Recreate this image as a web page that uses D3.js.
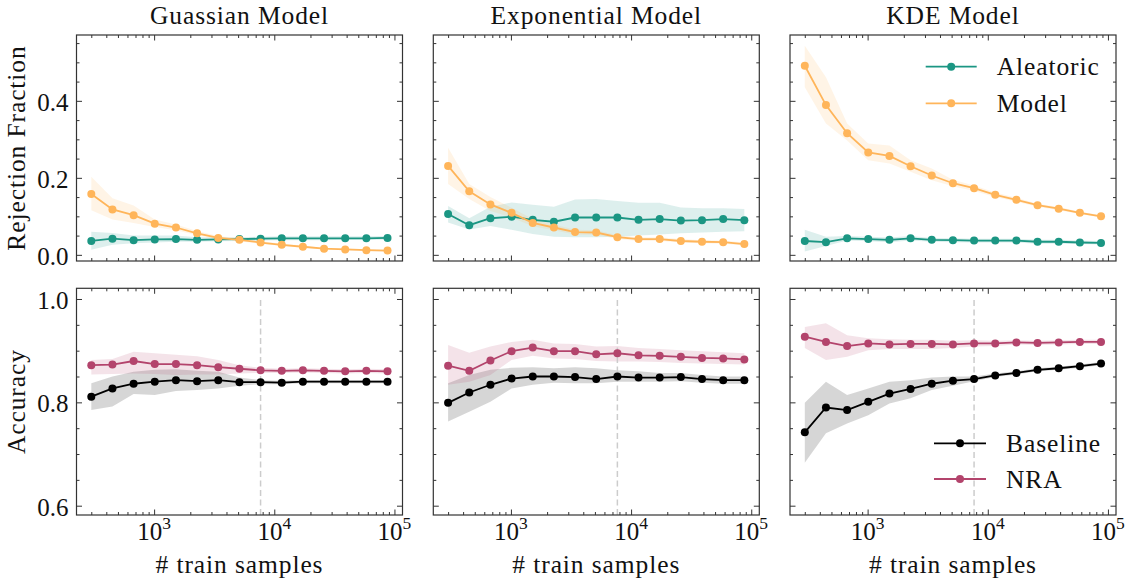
<!DOCTYPE html>
<html>
<head>
<meta charset="utf-8">
<script src="https://cdn.jsdelivr.net/npm/d3@7"></script>
<style>
  html, body { margin: 0; padding: 0; background: #fff; }
  svg { display: block; }
</style>
</head>
<body>
<svg id="chart" width="1132" height="581" font-family="'Liberation Serif', 'DejaVu Serif', serif"></svg>
<script>
// Training-set sizes (x values shared by every panel)
const trainSizes = [300, 450, 675, 1012, 1519, 2278, 3417, 5126, 7689, 11533, 17300, 25949, 38924, 58386, 87579];
const referenceSize = 7689;

const modelNames = ["Guassian Model", "Exponential Model", "KDE Model"];

// Rejection fraction: aleatoric component (mean, lower, upper)
const gaussAleatoric   = [0.036, 0.042, 0.038, 0.040, 0.041, 0.039, 0.040, 0.041, 0.042, 0.043, 0.043, 0.043, 0.043, 0.043, 0.044];
const gaussAleatoricLo = [0.013, 0.026, 0.030, 0.032, 0.034, 0.034, 0.035, 0.036, 0.037, 0.038, 0.038, 0.038, 0.039, 0.039, 0.039];
const gaussAleatoricHi = [0.060, 0.057, 0.050, 0.050, 0.050, 0.046, 0.046, 0.046, 0.047, 0.048, 0.048, 0.048, 0.048, 0.048, 0.049];
const expAleatoric     = [0.106, 0.077, 0.095, 0.099, 0.091, 0.086, 0.097, 0.097, 0.097, 0.091, 0.093, 0.089, 0.090, 0.093, 0.090];
const expAleatoricLo   = [0.084, 0.066, 0.075, 0.065, 0.054, 0.047, 0.046, 0.046, 0.047, 0.050, 0.053, 0.056, 0.058, 0.060, 0.061];
const expAleatoricHi   = [0.127, 0.095, 0.125, 0.136, 0.130, 0.125, 0.144, 0.145, 0.140, 0.135, 0.135, 0.123, 0.121, 0.121, 0.119];
const kdeAleatoric     = [0.036, 0.033, 0.043, 0.041, 0.039, 0.043, 0.039, 0.038, 0.037, 0.037, 0.037, 0.034, 0.034, 0.032, 0.031];
const kdeAleatoricLo   = [0.009, 0.023, 0.037, 0.035, 0.033, 0.037, 0.034, 0.033, 0.032, 0.032, 0.032, 0.029, 0.029, 0.028, 0.027];
const kdeAleatoricHi   = [0.065, 0.047, 0.049, 0.047, 0.045, 0.049, 0.044, 0.043, 0.042, 0.042, 0.042, 0.039, 0.039, 0.037, 0.036];

// Rejection fraction: model component (mean, lower, upper)
const gaussModel   = [0.158, 0.118, 0.103, 0.081, 0.071, 0.056, 0.044, 0.039, 0.032, 0.026, 0.021, 0.016, 0.014, 0.012, 0.011];
const gaussModelLo = [0.116, 0.092, 0.083, 0.072, 0.064, 0.051, 0.040, 0.035, 0.029, 0.023, 0.019, 0.014, 0.012, 0.010, 0.009];
const gaussModelHi = [0.203, 0.147, 0.128, 0.092, 0.079, 0.062, 0.049, 0.043, 0.036, 0.029, 0.024, 0.018, 0.016, 0.014, 0.013];
const expModel     = [0.231, 0.165, 0.131, 0.109, 0.083, 0.071, 0.059, 0.058, 0.046, 0.041, 0.041, 0.036, 0.034, 0.033, 0.028];
const expModelLo   = [0.184, 0.145, 0.114, 0.097, 0.074, 0.064, 0.053, 0.052, 0.041, 0.036, 0.036, 0.032, 0.030, 0.029, 0.024];
const expModelHi   = [0.278, 0.184, 0.150, 0.122, 0.093, 0.079, 0.065, 0.064, 0.051, 0.046, 0.046, 0.041, 0.038, 0.037, 0.032];
const kdeModel     = [0.491, 0.389, 0.316, 0.266, 0.257, 0.230, 0.206, 0.186, 0.173, 0.156, 0.143, 0.129, 0.120, 0.109, 0.100];
const kdeModelLo   = [0.435, 0.341, 0.297, 0.246, 0.237, 0.216, 0.194, 0.178, 0.166, 0.150, 0.138, 0.125, 0.116, 0.106, 0.097];
const kdeModelHi   = [0.543, 0.461, 0.341, 0.289, 0.284, 0.246, 0.224, 0.195, 0.180, 0.162, 0.148, 0.133, 0.124, 0.112, 0.103];

// Accuracy: baseline classifier (mean, lower, upper)
const gaussBaseline   = [0.811, 0.827, 0.836, 0.840, 0.843, 0.841, 0.843, 0.839, 0.839, 0.838, 0.840, 0.840, 0.840, 0.840, 0.840];
const gaussBaselineLo = [0.785, 0.792, 0.816, 0.814, 0.822, 0.824, 0.827, 0.832, 0.835, 0.835, 0.837, 0.837, 0.837, 0.837, 0.837];
const gaussBaselineHi = [0.837, 0.850, 0.859, 0.863, 0.864, 0.861, 0.859, 0.848, 0.843, 0.842, 0.843, 0.843, 0.843, 0.843, 0.843];
const expBaseline     = [0.799, 0.819, 0.834, 0.846, 0.850, 0.850, 0.849, 0.845, 0.850, 0.848, 0.848, 0.849, 0.845, 0.843, 0.843];
const expBaselineLo   = [0.763, 0.782, 0.801, 0.827, 0.834, 0.838, 0.837, 0.837, 0.840, 0.840, 0.840, 0.841, 0.838, 0.836, 0.836];
const expBaselineHi   = [0.837, 0.853, 0.863, 0.867, 0.868, 0.866, 0.868, 0.866, 0.862, 0.860, 0.857, 0.857, 0.853, 0.850, 0.850];
const kdeBaseline     = [0.742, 0.790, 0.785, 0.801, 0.817, 0.826, 0.836, 0.842, 0.845, 0.852, 0.857, 0.863, 0.866, 0.870, 0.875];
const kdeBaselineLo   = [0.683, 0.740, 0.759, 0.775, 0.798, 0.808, 0.824, 0.832, 0.841, 0.849, 0.854, 0.860, 0.863, 0.867, 0.872];
const kdeBaselineHi   = [0.799, 0.840, 0.814, 0.827, 0.840, 0.843, 0.848, 0.850, 0.850, 0.856, 0.860, 0.866, 0.869, 0.873, 0.878];

// Accuracy: NRA (mean, lower, upper)
const gaussNRA   = [0.872, 0.873, 0.880, 0.874, 0.874, 0.872, 0.868, 0.865, 0.862, 0.861, 0.862, 0.861, 0.860, 0.861, 0.860];
const gaussNRALo = [0.854, 0.855, 0.856, 0.855, 0.853, 0.854, 0.854, 0.856, 0.857, 0.857, 0.858, 0.857, 0.856, 0.857, 0.856];
const gaussNRAHi = [0.882, 0.884, 0.898, 0.895, 0.892, 0.889, 0.882, 0.872, 0.867, 0.865, 0.866, 0.865, 0.864, 0.865, 0.864];
const expNRA     = [0.871, 0.861, 0.881, 0.899, 0.906, 0.899, 0.899, 0.893, 0.895, 0.891, 0.890, 0.888, 0.886, 0.885, 0.883];
const expNRALo   = [0.834, 0.840, 0.853, 0.882, 0.890, 0.885, 0.884, 0.880, 0.879, 0.879, 0.878, 0.876, 0.875, 0.874, 0.873];
const expNRAHi   = [0.911, 0.896, 0.908, 0.917, 0.921, 0.914, 0.913, 0.908, 0.909, 0.905, 0.903, 0.901, 0.899, 0.897, 0.895];
const kdeNRA     = [0.927, 0.917, 0.909, 0.914, 0.912, 0.913, 0.913, 0.912, 0.914, 0.914, 0.916, 0.915, 0.916, 0.917, 0.917];
const kdeNRALo   = [0.905, 0.882, 0.888, 0.901, 0.903, 0.903, 0.903, 0.905, 0.908, 0.909, 0.912, 0.911, 0.912, 0.913, 0.913];
const kdeNRAHi   = [0.946, 0.953, 0.930, 0.924, 0.922, 0.921, 0.921, 0.919, 0.920, 0.919, 0.920, 0.919, 0.920, 0.921, 0.921];

// Tick values
const xMajorTicks = [1e3, 1e4, 1e5];
const rejectionTicks = [0.0, 0.2, 0.4];
const accuracyTicks = [0.6, 0.8, 1.0];

const colors = { aleatoric: "#1b9683", model: "#ffb55a", baseline: "#000000", nra: "#b3446c" };

// ---- layout ----
const svg = d3.select("#chart");
const panelLeft = [76.5, 433.3, 790];
const panelW = 326;
const rowTop = [35, 288.3];
const rowH = [226, 226.7];
const FONT = 25;
const WORD_FONT = 25.5;
const WORD_SPACING = 0.9;
const FONT_FAMILY = "'Liberation Serif', 'DejaVu Serif', serif";

const x = d3.scaleLog().domain([Math.pow(10, 2.354), Math.pow(10, 5.067)]).range([0, panelW]);
const yTop = d3.scaleLinear().domain([-0.016, 0.571]).range([rowH[0], 0]);
const yBot = d3.scaleLinear().domain([0.582, 1.0207]).range([rowH[1], 0]);

const xMinor = [];
[100, 1000, 10000].forEach(d => { for (let k = 2; k <= 9; k++) xMinor.push(d * k); });
const xMinorVisible = xMinor.filter(v => v >= x.domain()[0] && v <= x.domain()[1]);

function rangeStep(a, b, s) { const out = []; for (let v = a; v <= b + 1e-9; v += s) out.push(+v.toFixed(3)); return out; }

const topSeries = [
  [ {m: gaussAleatoric, lo: gaussAleatoricLo, hi: gaussAleatoricHi, c: colors.aleatoric},
    {m: gaussModel, lo: gaussModelLo, hi: gaussModelHi, c: colors.model} ],
  [ {m: expAleatoric, lo: expAleatoricLo, hi: expAleatoricHi, c: colors.aleatoric},
    {m: expModel, lo: expModelLo, hi: expModelHi, c: colors.model} ],
  [ {m: kdeAleatoric, lo: kdeAleatoricLo, hi: kdeAleatoricHi, c: colors.aleatoric},
    {m: kdeModel, lo: kdeModelLo, hi: kdeModelHi, c: colors.model} ]
];
const botSeries = [
  [ {m: gaussBaseline, lo: gaussBaselineLo, hi: gaussBaselineHi, c: colors.baseline, a: 0.16},
    {m: gaussNRA, lo: gaussNRALo, hi: gaussNRAHi, c: colors.nra, a: 0.15} ],
  [ {m: expBaseline, lo: expBaselineLo, hi: expBaselineHi, c: colors.baseline, a: 0.16},
    {m: expNRA, lo: expNRALo, hi: expNRAHi, c: colors.nra, a: 0.15} ],
  [ {m: kdeBaseline, lo: kdeBaselineLo, hi: kdeBaselineHi, c: colors.baseline, a: 0.16},
    {m: kdeNRA, lo: kdeNRALo, hi: kdeNRAHi, c: colors.nra, a: 0.15} ]
];

function styleAxis(g) {
  g.select(".domain").remove();
  g.selectAll(".tick line").attr("stroke", "#333").attr("stroke-width", 1);
}

function label(parent) {
  return parent.append("text").attr("font-family", FONT_FAMILY).attr("font-size", FONT).attr("fill", "#111");
}
function wordLabel(parent) {
  return label(parent).attr("font-size", WORD_FONT).attr("letter-spacing", WORD_SPACING);
}

function drawPanel(col, row) {
  const y = row === 0 ? yTop : yBot;
  const h = rowH[row];
  const g = svg.append("g").attr("transform", `translate(${panelLeft[col]},${rowTop[row]})`);
  const clipId = `clip-${row}-${col}`;
  g.append("clipPath").attr("id", clipId).append("rect").attr("width", panelW).attr("height", h);
  const plot = g.append("g").attr("clip-path", `url(#${clipId})`);

  const series = row === 0 ? topSeries[col] : botSeries[col];

  // uncertainty bands
  series.forEach(s => {
    const area = d3.area()
      .x((d, i) => x(trainSizes[i]))
      .y0((d, i) => y(s.lo[i]))
      .y1((d, i) => y(s.hi[i]));
    plot.append("path").datum(s.m).attr("d", area)
      .attr("fill", s.c).attr("fill-opacity", s.a || 0.15).attr("stroke", "none");
  });

  // reference sample size marker
  if (row === 1) {
    plot.append("line")
      .attr("x1", x(referenceSize)).attr("x2", x(referenceSize))
      .attr("y1", h).attr("y2", y(1.0))
      .attr("stroke", "#cccccc").attr("stroke-width", 1.5).attr("stroke-dasharray", "6,3.5");
  }

  // mean lines with markers
  series.forEach(s => {
    const line = d3.line().x((d, i) => x(trainSizes[i])).y(d => y(d));
    plot.append("path").datum(s.m).attr("d", line)
      .attr("fill", "none").attr("stroke", s.c).attr("stroke-width", 1.8);
    plot.selectAll(null).data(s.m).enter().append("circle")
      .attr("cx", (d, i) => x(trainSizes[i])).attr("cy", d => y(d)).attr("r", 4)
      .attr("fill", s.c);
  });

  // x ticks (inward, bottom and top)
  const xb = g.append("g").attr("transform", `translate(0,${h})`)
    .call(d3.axisBottom(x).tickValues(xMajorTicks).tickSize(-5.5).tickFormat(""));
  styleAxis(xb);
  const xbm = g.append("g").attr("transform", `translate(0,${h})`)
    .call(d3.axisBottom(x).tickValues(xMinorVisible).tickSize(-3).tickFormat(""));
  styleAxis(xbm);
  const xt = g.append("g").call(d3.axisTop(x).tickValues(xMajorTicks).tickSize(-5.5).tickFormat(""));
  styleAxis(xt);
  const xtm = g.append("g").call(d3.axisTop(x).tickValues(xMinorVisible).tickSize(-3).tickFormat(""));
  styleAxis(xtm);

  // x tick labels (10^n)
  if (row === 1) {
    xMajorTicks.forEach(v => {
      const t = label(g).attr("x", x(v)).attr("y", h + 25).attr("text-anchor", "middle");
      t.append("tspan").text("10");
      t.append("tspan").text(String(Math.round(Math.log10(v))))
        .attr("font-size", FONT * 0.7).attr("dy", -FONT * 0.42);
    });
    wordLabel(g).attr("x", panelW / 2).attr("y", h + 58)
      .attr("text-anchor", "middle").text("# train samples");
  }

  // y ticks (inward, left and right)
  const yMajor = row === 0 ? rejectionTicks : accuracyTicks;
  const yMinor = (row === 0 ? rangeStep(0, 0.55, 0.05) : rangeStep(0.6, 1.0, 0.05))
    .filter(v => !yMajor.some(m => Math.abs(m - v) < 1e-6));
  const yl = g.append("g").call(d3.axisLeft(y).tickValues(yMajor).tickSize(-5.5).tickFormat(""));
  styleAxis(yl);
  const ylm = g.append("g").call(d3.axisLeft(y).tickValues(yMinor).tickSize(-3).tickFormat(""));
  styleAxis(ylm);
  const yr = g.append("g").attr("transform", `translate(${panelW},0)`)
    .call(d3.axisRight(y).tickValues(yMajor).tickSize(-5.5).tickFormat(""));
  styleAxis(yr);
  const yrm = g.append("g").attr("transform", `translate(${panelW},0)`)
    .call(d3.axisRight(y).tickValues(yMinor).tickSize(-3).tickFormat(""));
  styleAxis(yrm);

  if (col === 0) {
    yMajor.forEach(v => {
      label(g).attr("x", -8).attr("y", y(v) + 10).attr("text-anchor", "end").text(v.toFixed(1));
    });
    wordLabel(g)
      .attr("transform", `translate(${24.5 - panelLeft[0]},${h / 2}) rotate(-90)`)
      .attr("text-anchor", "middle")
      .text(row === 0 ? "Rejection Fraction" : "Accuracy");
  }

  // frame
  g.append("rect").attr("width", panelW).attr("height", h)
    .attr("fill", "none").attr("stroke", "#333").attr("stroke-width", 1.2);

  if (row === 0) {
    wordLabel(g).attr("x", panelW / 2).attr("y", 24 - rowTop[0])
      .attr("text-anchor", "middle").text(modelNames[col]);
  }
}

for (let r = 0; r < 2; r++) for (let c = 0; c < 3; c++) drawPanel(c, r);

// legends
function legendEntry(x0, x1, yy, textX, color, text) {
  svg.append("line").attr("x1", x0).attr("x2", x1).attr("y1", yy).attr("y2", yy)
    .attr("stroke", color).attr("stroke-width", 1.8);
  svg.append("circle").attr("cx", (x0 + x1) / 2).attr("cy", yy).attr("r", 4).attr("fill", color);
  wordLabel(svg).attr("x", textX).attr("y", yy + 8.5).text(text);
}
legendEntry(925.7, 976.7, 66.7, 996.7, colors.aleatoric, "Aleatoric");
legendEntry(925.7, 976.7, 103.3, 996.7, colors.model, "Model");
legendEntry(934, 986, 443.3, 1006, colors.baseline, "Baseline");
legendEntry(934, 986, 479, 1006, colors.nra, "NRA");
</script>
</body>
</html>
